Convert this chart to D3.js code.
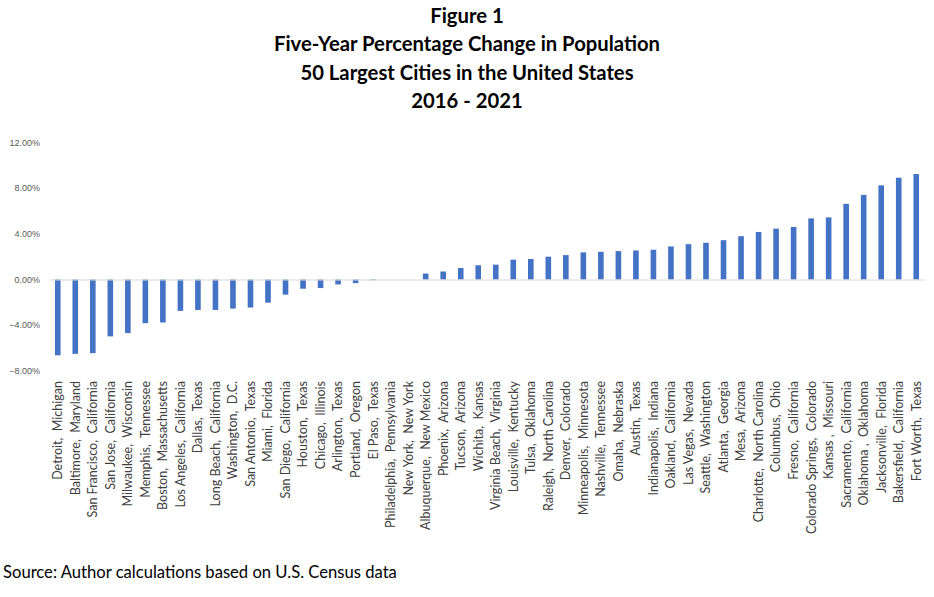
<!DOCTYPE html>
<html>
<head>
<meta charset="utf-8">
<script src="https://cdn.jsdelivr.net/npm/d3@7"></script>
<style>
  html, body { margin: 0; padding: 0; background: #fff; }
  svg { display: block; }
  text { white-space: pre; }
</style>
</head>
<body>
<script>
const titleLines = ["Figure 1", "Five-Year Percentage Change in Population", "50 Largest Cities in the United States", "2016 - 2021"];
const sourceText = "Source: Author calculations based on U.S. Census data";

const cities = [
  "Detroit,  Michigan", "Baltimore,  Maryland", "San Francisco,  California", "San Jose,  California",
  "Milwaukee,  Wisconsin", "Memphis,  Tennessee", "Boston,  Massachusetts", "Los Angeles,  California",
  "Dallas,  Texas", "Long Beach,  California", "Washington,  D.C.", "San Antonio,  Texas",
  "Miami,  Florida", "San Diego,  California", "Houston,  Texas", "Chicago,  Illinois",
  "Arlington,  Texas", "Portland,  Oregon", "El Paso,  Texas", "Philadelphia,  Pennsylvania",
  "New York,  New York", "Albuquerque,  New Mexico", "Phoenix,  Arizona", "Tucson,  Arizona",
  "Wichita,  Kansas", "Virginia Beach,  Virginia", "Louisville,  Kentucky", "Tulsa,  Oklahoma",
  "Raleigh,  North Carolina", "Denver,  Colorado", "Minneapolis,  Minnesota", "Nashville,  Tennessee",
  "Omaha,  Nebraska", "Austin,  Texas", "Indianapolis,  Indiana", "Oakland,  California",
  "Las Vegas,  Nevada", "Seattle,  Washington", "Atlanta,  Georgia", "Mesa,  Arizona",
  "Charlotte,  North Carolina", "Columbus,  Ohio", "Fresno,  California", "Colorado Springs,  Colorado",
  "Kansas ,  Missouri", "Sacramento,  California", "Oklahoma ,  Oklahoma", "Jacksonville,  Florida",
  "Bakersfield,  California", "Fort Worth,  Texas"
];

const changePct = [
  -6.65, -6.52, -6.46, -4.99,
  -4.70, -3.83, -3.77, -2.75,
  -2.67, -2.67, -2.55, -2.46,
  -2.03, -1.33, -0.81, -0.75,
  -0.43, -0.32, -0.06, 0.0,
  0.0, 0.52, 0.70, 1.01,
  1.25, 1.30, 1.74, 1.80,
  2.00, 2.14, 2.38, 2.43,
  2.49, 2.55, 2.61, 2.90,
  3.10, 3.22, 3.45, 3.80,
  4.17, 4.46, 4.61, 5.36,
  5.45, 6.64, 7.42, 8.26,
  8.93, 9.25
];

const yTicks = [-8, -4, 0, 4, 8, 12];

const W = 934, H = 597;
const svg = d3.select("body").append("svg").attr("width", W).attr("height", H);

const titleFont = "Lato, 'Open Sans', sans-serif";
const bodyFont = "Lato, 'Open Sans', sans-serif";

function fitSize(text, family, weight, target) {
  const t = svg.append("text").attr("font-family", family).attr("font-weight", weight)
    .attr("font-size", 20).text(text);
  const len = t.node().getComputedTextLength();
  t.remove();
  return 20 * target / len;
}

// Title
const tSize = fitSize(titleLines[1], titleFont, "bold", 386);
const titleBaselines = [23, 51, 80, 108];
svg.append("g").selectAll("text").data(titleLines).join("text")
  .attr("x", 467).attr("y", (d, i) => titleBaselines[i])
  .attr("text-anchor", "middle")
  .attr("font-family", titleFont).attr("font-weight", "bold")
  .attr("font-size", tSize).attr("fill", "#000")
  .text(d => d);

// Scales
const x = d3.scaleBand().domain(cities).range([49, 925]).paddingInner(0.68).paddingOuter(0.34);
const y = d3.scaleLinear().domain([-8, 12]).range([370.7, 142.7]);

// y labels
svg.append("g").selectAll("text").data(yTicks).join("text")
  .attr("x", 40).attr("y", d => y(d)).attr("dy", "0.35em")
  .attr("text-anchor", "end")
  .attr("font-family", "'Liberation Sans', Arial, sans-serif")
  .attr("font-size", 9).attr("fill", "#595959")
  .text(d => d3.format(".2f")(d) + "%");

// Bars
svg.append("g").selectAll("rect").data(changePct).join("rect")
  .attr("x", (d, i) => x(cities[i]))
  .attr("width", x.bandwidth())
  .attr("y", d => y(Math.max(0, d)))
  .attr("height", d => Math.abs(y(d) - y(0)))
  .attr("fill", "#4472C4");

// Zero axis line
const xAxis = d3.axisBottom(x).tickSize(0).tickFormat("");
const ax = svg.append("g").attr("transform", `translate(0,${y(0)})`).call(xAxis);
ax.select(".domain").attr("stroke", "#d9d9d9").attr("stroke-width", 1);

// X labels
const lSize = fitSize(cities[19], bodyFont, "normal", 147);
svg.append("g").selectAll("text").data(cities).join("text")
  .attr("transform", d => `translate(${x(d) + x.bandwidth() / 2 + lSize * 0.35},381) rotate(-90)`)
  .attr("text-anchor", "end")
  .attr("font-family", bodyFont).attr("font-size", lSize).attr("fill", "#404040")
  .text(d => d);

// Source
const sSize = fitSize(sourceText, bodyFont, "normal", 394);
svg.append("text").attr("x", 3).attr("y", 578)
  .attr("font-family", bodyFont).attr("font-size", sSize).attr("fill", "#000")
  .text(sourceText);
</script>
</body>
</html>
